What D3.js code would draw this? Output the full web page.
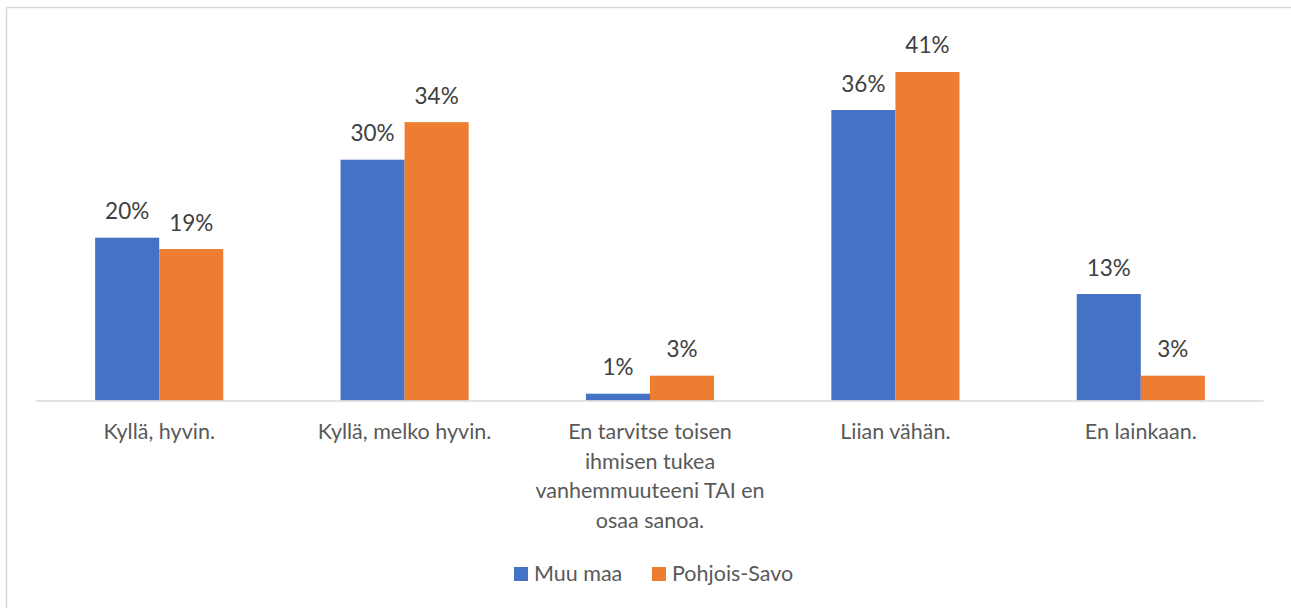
<!DOCTYPE html>
<html>
<head>
<meta charset="utf-8">
<script src="https://cdn.jsdelivr.net/npm/d3@7"></script>
<style>
  body { margin: 0; background: #fff; }
  svg { display: block; font-family: Lato, "Open Sans", sans-serif; }
</style>
</head>
<body>
<svg class="chart"></svg>
<script>
const width = 1291;
const height = 608;

// data (percent)
const categories = [
    ["Kyllä, hyvin."],
    ["Kyllä, melko hyvin."],
    ["En tarvitse toisen", "ihmisen tukea", "vanhemmuuteeni TAI en", "osaa sanoa."],
    ["Liian vähän."],
    ["En lainkaan."]
];
const seriesNames = ["Muu maa", "Pohjois-Savo"];
const muuMaa = [20.15, 29.8, 0.84, 35.95, 13.18];
const pohjoisSavo = [18.75, 34.45, 3.07, 40.66, 3.07];
const colors = ["#4472C4", "#ED7D31"];

const plot = { left: 36.5, right: 1263.5, top: 36.9, bottom: 400.5 };

let svg = d3.select("svg.chart")
    .attr("width", width)
    .attr("height", height);

// chart frame (only top/left visible in the crop)
svg.append("path")
    .attr("d", `M6.5,${height} V7.5 H${width}`)
    .attr("fill", "none")
    .attr("stroke", "#d9d9d9")
    .attr("stroke-width", 1.5);

let x = d3.scaleBand()
    .domain(d3.range(categories.length))
    .range([plot.left, plot.right])
    .paddingInner(0.478)
    .paddingOuter(0.239);

let x1 = d3.scaleBand()
    .domain([0, 1])
    .range([0, x.bandwidth()]);

let y = d3.scaleLinear()
    .domain([0, 45])
    .range([plot.bottom, plot.top]);

let rows = categories.map((c, i) => [muuMaa[i], pohjoisSavo[i]]);

let groups = svg.selectAll(".grp")
    .data(rows)
    .enter().append("g")
    .attr("class", "grp")
    .attr("transform", (d, i) => `translate(${x(i)},0)`);

groups.selectAll("rect")
    .data(d => d)
    .enter().append("rect")
    .attr("x", (d, j) => x1(j))
    .attr("width", x1.bandwidth())
    .attr("y", d => y(d))
    .attr("height", d => y(0) - y(d))
    .attr("fill", (d, j) => colors[j]);

let fmt = v => Math.round(v) + "%";

groups.selectAll("text.val")
    .data(d => d)
    .enter().append("text")
    .attr("class", "val")
    .attr("x", (d, j) => x1(j) + x1.bandwidth() / 2)
    .attr("y", d => y(d) - 18.5)
    .attr("text-anchor", "middle")
    .attr("fill", "#404040")
    .style("font-size", "22.5px")
    .text(fmt);

// baseline axis
svg.append("line")
    .attr("x1", plot.left)
    .attr("x2", plot.right)
    .attr("y1", plot.bottom + 0.5)
    .attr("y2", plot.bottom + 0.5)
    .attr("stroke", "#d9d9d9")
    .attr("stroke-width", 1.5);

// category labels
let catLabels = svg.selectAll(".cat")
    .data(categories)
    .enter().append("text")
    .attr("class", "cat")
    .attr("text-anchor", "middle")
    .attr("fill", "#595959")
    .style("font-size", "21.5px");

catLabels.selectAll("tspan")
    .data((d, i) => d.map(line => ({ line, i })))
    .enter().append("tspan")
    .attr("x", d => x(d.i) + x.bandwidth() / 2)
    .attr("y", (d, k) => 439 + k * 29.5)
    .text(d => d.line);

// legend
let legend = svg.append("g");
let legendX = [514, 652];
seriesNames.forEach((name, j) => {
    legend.append("rect")
        .attr("x", legendX[j])
        .attr("y", 567)
        .attr("width", 14)
        .attr("height", 14)
        .attr("fill", colors[j]);
    legend.append("text")
        .attr("x", legendX[j] + 20)
        .attr("y", 581)
        .attr("fill", "#595959")
        .style("font-size", "21.5px")
        .text(name);
});
</script>
</body>
</html>
